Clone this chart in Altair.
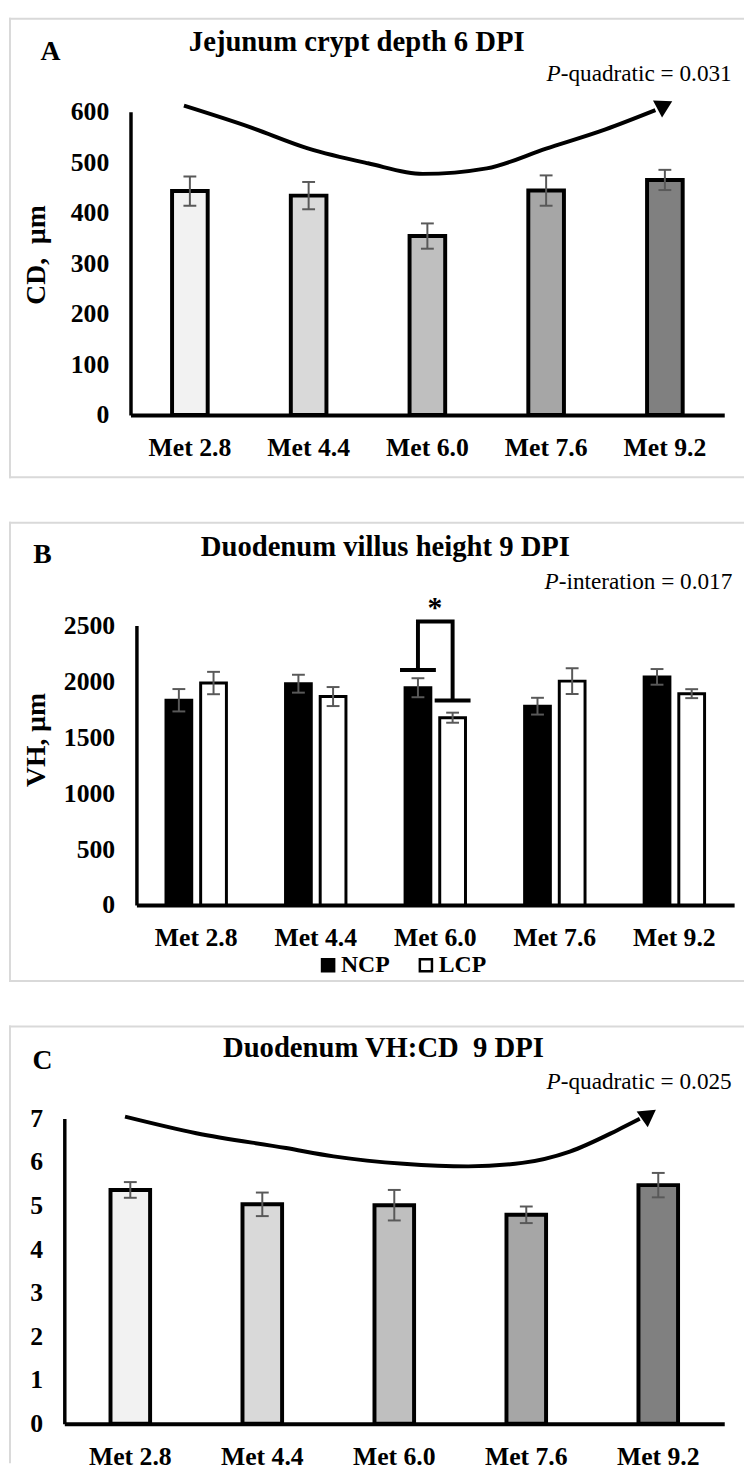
import altair as alt
import pandas as pd

FONT = "Liberation Serif"
ERR = "#595959"
BOX = "#d9d9d9"

# ---------------- data ----------------
cats = ["Met 2.8", "Met 4.4", "Met 6.0", "Met 7.6", "Met 9.2"]
bar_colors = ["#f2f2f2", "#d9d9d9", "#bfbfbf", "#a6a6a6", "#808080"]

# Panel A: jejunum crypt depth 6 DPI
cd_mean = [443, 434, 354, 444, 465]
cd_se = [29, 27, 25, 30, 20]
arrowA_x = [0.45, 1.0, 1.5, 2.0, 2.46, 3.0, 3.5, 4.0, 4.42]
arrowA_y = [612, 570, 527, 498, 477, 488, 527, 565, 603]
tipA_x = [4.50]
tipA_y = [613]

# Panel B: duodenum villus height 9 DPI
groups = ["NCP", "LCP"]
vh_ncp = [1831, 1979, 1943, 1778, 2040]
vh_lcp = [1985, 1864, 1675, 2002, 1890]
vh_ncp_se = [100, 80, 85, 75, 70]
vh_lcp_se = [100, 85, 45, 115, 40]
bracket_x = [2.355, 2.355, 2.645, 2.645]
bracket_y = [2102, 2535, 2535, 1829]
bcap_x = [2.205, 2.495]
bcap_x2 = [2.505, 2.795]
bcap_y = [2102, 1829]

# Panel C: duodenum VH:CD 9 DPI
ratio_mean = [5.36, 5.03, 5.01, 4.79, 5.47]
ratio_se = [0.18, 0.27, 0.35, 0.19, 0.28]
arrowC_x = [0.46, 1.0, 1.68, 2.04, 2.57, 3.06, 3.47, 3.83, 4.19, 4.36]
arrowC_y = [7.04, 6.66, 6.32, 6.13, 5.96, 5.90, 5.98, 6.24, 6.73, 6.99]
tipC_x = [4.43]
tipC_y = [7.09]

ONE = alt.Data(values=[{"k": 1}])


def txt(s, x, y, size, weight="bold", style="normal", align="center", angle=None):
    kw = dict(text=s, font=FONT, fontSize=size, fontWeight=weight, fontStyle=style,
              align=align, baseline="middle", color="black")
    if angle is not None:
        kw["angle"] = angle
    return alt.Chart(ONE).mark_text(**kw).encode(x=alt.value(x), y=alt.value(y))


# every panel shares the same plot-left edge (page x = 64); boxes span page x 9..751
BOX_L, BOX_R = -55, 687


def box(top, bottom, draw_bottom=True):
    parts = [
        alt.Chart(ONE).mark_rule(color=BOX, strokeWidth=2, strokeCap="square").encode(
            x=alt.value(BOX_L), x2=alt.value(BOX_R), y=alt.value(top)),
        alt.Chart(ONE).mark_rule(color=BOX, strokeWidth=2, strokeCap="square").encode(
            x=alt.value(BOX_L), y=alt.value(top), y2=alt.value(bottom)),
    ]
    if draw_bottom:
        parts.append(alt.Chart(ONE).mark_rule(color=BOX, strokeWidth=2, strokeCap="square").encode(
            x=alt.value(BOX_L), x2=alt.value(BOX_R), y=alt.value(bottom)))
    return parts


XAXIS = alt.Axis(title=None, labelAngle=0, labelFont=FONT, labelFontSize=26,
                 labelFontWeight="bold", labelColor="black", ticks=False,
                 domainColor="black", domainWidth=4, labelPadding=20, grid=False)


def yaxis(vals, off):
    return alt.Axis(title=None, values=vals, labelFont=FONT, labelFontSize=26,
                    labelFontWeight="bold", labelColor="black", ticks=False,
                    domainColor="black", domainWidth=3.5, labelPadding=22, grid=False,
                    format="d", offset=-off)


def ptext(rest, x, y):
    return [txt("P", x, y, 23.5, weight="normal", style="italic", align="left"),
            txt(rest, x + 14.5, y, 23.5, weight="normal", align="left")]


def curve(ax, ay, tx, ty, ysc, yax, qx, tip_angle):
    cdf = pd.DataFrame({"ax": ax, "ay": ay, "o": list(range(len(ax)))})
    tdf = pd.DataFrame({"ax": tx, "ay": ty})
    line = alt.Chart(cdf).mark_line(color="black", strokeWidth=4, interpolate="monotone").encode(
        x=alt.X("ax:Q", scale=qx, axis=None),
        y=alt.Y("ay:Q", scale=ysc, axis=yax),
        order="o:Q")
    head = alt.Chart(tdf).mark_point(shape="triangle-up", filled=True, fill="black",
                                     size=380, angle=tip_angle, opacity=1, strokeWidth=0).encode(
        x=alt.X("ax:Q", scale=qx, axis=None),
        y=alt.Y("ay:Q", scale=ysc, axis=yax))
    return [line, head]


def single_panel(means, ses, ymax, ystep, x0, Wd, H, arrow, extras):
    df = pd.DataFrame({"cat": cats, "mean": means, "se": ses})
    df["lo"] = df["mean"] - df["se"]
    df["hi"] = df["mean"] + df["se"]
    ysc = alt.Scale(domain=[0, ymax], nice=False)
    yax = yaxis(list(range(0, ymax + 1, ystep)), x0)
    xsc = alt.Scale(domain=cats, range=[x0, x0 + Wd], paddingInner=0.7, paddingOuter=0.35)
    qx = alt.Scale(domain=[0, 5], range=[x0, x0 + Wd], nice=False, zero=False)
    xenc = alt.X("cat:N", scale=xsc, axis=XAXIS)
    base = alt.Chart(df)
    bars = base.mark_bar(stroke="black", strokeWidth=4).encode(
        x=xenc,
        y=alt.Y("mean:Q", scale=ysc, axis=yax),
        fill=alt.Fill("cat:N", scale=alt.Scale(domain=cats, range=bar_colors), legend=None))
    err = base.mark_rule(color=ERR, strokeWidth=2).encode(
        x=xenc, y=alt.Y("lo:Q", scale=ysc, axis=yax), y2="hi:Q")
    caplo = base.mark_tick(color=ERR, thickness=2, size=13, opacity=1).encode(
        x=xenc, y=alt.Y("lo:Q", scale=ysc, axis=yax))
    caphi = base.mark_tick(color=ERR, thickness=2, size=13, opacity=1).encode(
        x=xenc, y=alt.Y("hi:Q", scale=ysc, axis=yax))
    inner = alt.layer(bars, err, caplo, caphi)
    ax, ay, tx, ty, ang = arrow
    layers = [inner] + curve(ax, ay, tx, ty, ysc, yax, qx, ang) + extras
    return alt.layer(*layers).resolve_scale(x="independent").properties(width=x0 + Wd, height=H)


# ---------------- panel A ----------------
extrasA = ([txt("A", -14, -60, 28), txt("Jejunum crypt depth 6 DPI", 296, -70, 29),
            txt("CD,\u00a0 \u03bcm", -28, 145, 28, angle=270)]
           + ptext("-quadratic = 0.031", 488, -38)
           + box(-94, 370))
panelA = single_panel(cd_mean, cd_se, 600, 100, 67, 601, 307,
                      (arrowA_x, arrowA_y, tipA_x, tipA_y, 62), extrasA)

# ---------------- panel B ----------------
X0B, WDB, HB = 73, 605, 283
dfB = pd.DataFrame({
    "cat": cats * 2,
    "grp": ["NCP"] * 5 + ["LCP"] * 5,
    "mean": vh_ncp + vh_lcp,
    "se": vh_ncp_se + vh_lcp_se,
})
dfB["lo"] = dfB["mean"] - dfB["se"]
dfB["hi"] = dfB["mean"] + dfB["se"]
yscB = alt.Scale(domain=[0, 2500], nice=False)
yaxB = yaxis(list(range(0, 2501, 500)), X0B)
xscB = alt.Scale(domain=cats, range=[X0B, X0B + WDB], paddingInner=0.42, paddingOuter=0.21)
qxB = alt.Scale(domain=[0, 5], range=[X0B, X0B + WDB], nice=False, zero=False)
xencB = alt.X("cat:N", scale=xscB, axis=XAXIS)
offB = alt.XOffset("grp:N", scale=alt.Scale(domain=groups, paddingInner=0.257, paddingOuter=0.1285))
baseB = alt.Chart(dfB)
barsB = baseB.mark_bar(stroke="black", strokeWidth=3).encode(
    x=xencB, xOffset=offB,
    y=alt.Y("mean:Q", scale=yscB, axis=yaxB),
    fill=alt.Fill("grp:N", scale=alt.Scale(domain=groups, range=["black", "white"]),
                  legend=alt.Legend(orient="none", legendX=255, legendY=332, direction="horizontal",
                                    title=None, symbolType="square", symbolSize=150,
                                    symbolStrokeColor="black", symbolStrokeWidth=2.5,
                                    labelFont=FONT, labelFontSize=24, labelFontWeight="bold",
                                    labelColor="black", columnPadding=24, labelOffset=1,
                                    padding=0)))
errB = baseB.mark_rule(color=ERR, strokeWidth=2).encode(
    x=xencB, xOffset=offB, y=alt.Y("lo:Q", scale=yscB, axis=yaxB), y2="hi:Q")
caploB = baseB.mark_tick(color=ERR, thickness=2, size=13, opacity=1).encode(
    x=xencB, xOffset=offB, y=alt.Y("lo:Q", scale=yscB, axis=yaxB))
caphiB = baseB.mark_tick(color=ERR, thickness=2, size=13, opacity=1).encode(
    x=xencB, xOffset=offB, y=alt.Y("hi:Q", scale=yscB, axis=yaxB))
innerB = alt.layer(barsB, errB, caploB, caphiB)

brdf = pd.DataFrame({"bx": bracket_x, "by": bracket_y, "o": list(range(len(bracket_x)))})
bracket = alt.Chart(brdf).mark_line(color="black", strokeWidth=4, strokeJoin="miter").encode(
    x=alt.X("bx:Q", scale=qxB, axis=None), y=alt.Y("by:Q", scale=yscB, axis=yaxB), order="o:Q")
bcdf = pd.DataFrame({"x1": bcap_x, "x2": bcap_x2, "y": bcap_y})
bcaps = alt.Chart(bcdf).mark_rule(color="black", strokeWidth=4).encode(
    x=alt.X("x1:Q", scale=qxB, axis=None), x2="x2:Q", y=alt.Y("y:Q", scale=yscB, axis=yaxB))

extrasB = ([txt("B", -22, -71, 28), txt("Duodenum villus height 9 DPI", 325, -79, 29),
            txt("VH, \u03bcm", -28, 116, 28, angle=270), txt("*", 375, -18, 30)]
           + ptext("-interation = 0.017", 486, -44)
           + box(-104, 360))
panelB = alt.layer(innerB, bracket, bcaps, *extrasB).resolve_scale(x="independent").properties(
    width=X0B + WDB, height=HB)

# ---------------- panel C ----------------
extrasC = ([txt("C", -22, -58, 28), txt("Duodenum VH:CD\u00a0 9 DPI", 323, -71, 29)]
           + ptext("-quadratic = 0.025", 488, -37)
           + box(-93, 348, draw_bottom=False))
panelC = single_panel(ratio_mean, ratio_se, 7, 1, 0, 668, 309,
                      (arrowC_x, arrowC_y, tipC_x, tipC_y, 55), extrasC)

chart = alt.vconcat(panelA, panelB, panelC, spacing=42).properties(
    padding=0).resolve_scale(fill="independent").configure_view(stroke=None)

chart.save("out.html", embed_options={"renderer": "svg", "actions": False})
